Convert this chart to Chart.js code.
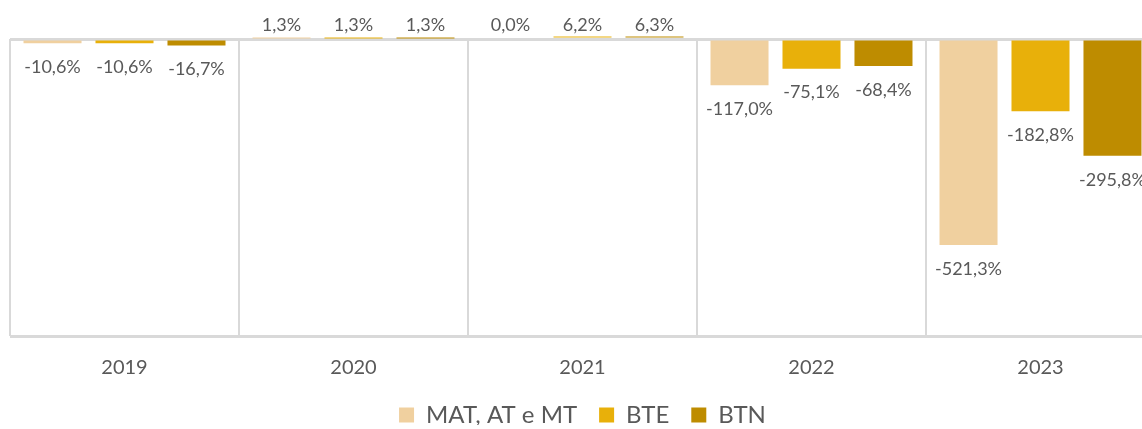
<!DOCTYPE html>
<html>
<head>
<meta charset="utf-8">
<script src="https://cdn.jsdelivr.net/npm/chart.js@4"></script>
<style>
  html, body { margin: 0; padding: 0; background: #fff; overflow: hidden; }
  #wrap { width: 1142px; height: 429px; overflow: hidden; }
  canvas { display: block; }
</style>
</head>
<body>
<div id="wrap"><canvas id="c" width="1172" height="429"></canvas></div>
<script>
const categories = ['2019', '2020', '2021', '2022', '2023'];
const seriesNames = ['MAT, AT e MT', 'BTE', 'BTN'];
const matValues = [-10.6, 1.3, 0.0, -117.0, -521.3];
const bteValues = [-10.6, 1.3, 6.2, -75.1, -182.8];
const btnValues = [-16.7, 1.3, 6.3, -68.4, -295.8];

const colors = ['#F0D09F', '#E8B00A', '#BE8C00'];
const textColor = '#595959';
const gridColor = '#D9D9D9';
const FONT = 'Lato, "Open Sans", sans-serif';

const fmt = v => v.toFixed(1).replace('.', ',') + '%';

const labelPlugin = {
  id: 'valueLabels',
  afterDatasetsDraw(chart) {
    const ctx = chart.ctx;
    const yScale = chart.scales.y;
    const zero = yScale.getPixelForValue(0);
    ctx.save();
    ctx.font = '18px ' + FONT;
    ctx.fillStyle = textColor;
    ctx.textAlign = 'center';
    ctx.textBaseline = 'middle';
    chart.data.datasets.forEach((ds, i) => {
      const meta = chart.getDatasetMeta(i);
      meta.data.forEach((el, j) => {
        const v = ds.data[j];
        const y = v < 0 ? el.y + 24 : zero - 14;
        ctx.fillText(fmt(v), el.x, y);
      });
    });
    ctx.restore();
  }
};

const legendSizePlugin = {
  id: 'legendSize',
  afterInit(chart) {
    const lg = chart.legend;
    if (lg && !lg._patched) {
      const origFit = lg.fit;
      lg.fit = function () { origFit.call(this); this.height = 44; };
      lg._patched = true;
    }
  }
};

new Chart(document.getElementById('c'), {
  type: 'bar',
  data: {
    labels: categories,
    datasets: [
      { label: seriesNames[0], data: matValues, backgroundColor: colors[0] },
      { label: seriesNames[1], data: bteValues, backgroundColor: colors[1] },
      { label: seriesNames[2], data: btnValues, backgroundColor: colors[2] }
    ]
  },
  options: {
    responsive: false,
    animation: false,
    devicePixelRatio: 1,
    datasets: { bar: { categoryPercentage: 0.943, barPercentage: 0.806, clip: false } },
    layout: { padding: { left: 10, right: 17, top: 39, bottom: 4 } },
    scales: {
      x: {
        grid: { color: gridColor, lineWidth: 2, drawTicks: false, offset: true },
        border: { display: false },
        ticks: { color: textColor, font: { family: FONT, size: 20 }, padding: 20 },
        afterFit: s => { s.height = 45; }
      },
      y: {
        min: -752,
        max: 0,
        afterBuildTicks: s => { s.ticks = [{ value: -752 }, { value: 0 }]; },
        ticks: { display: false },
        grid: { color: gridColor, lineWidth: 3, drawTicks: false },
        border: { display: false }
      }
    },
    plugins: {
      legend: {
        position: 'bottom',
        labels: {
          color: textColor,
          font: { family: FONT, size: 24 },
          boxWidth: 15,
          boxHeight: 15,
          padding: 22
        }
      },
      tooltip: { enabled: false }
    }
  },
  plugins: [labelPlugin, legendSizePlugin]
});
</script>
</body>
</html>
